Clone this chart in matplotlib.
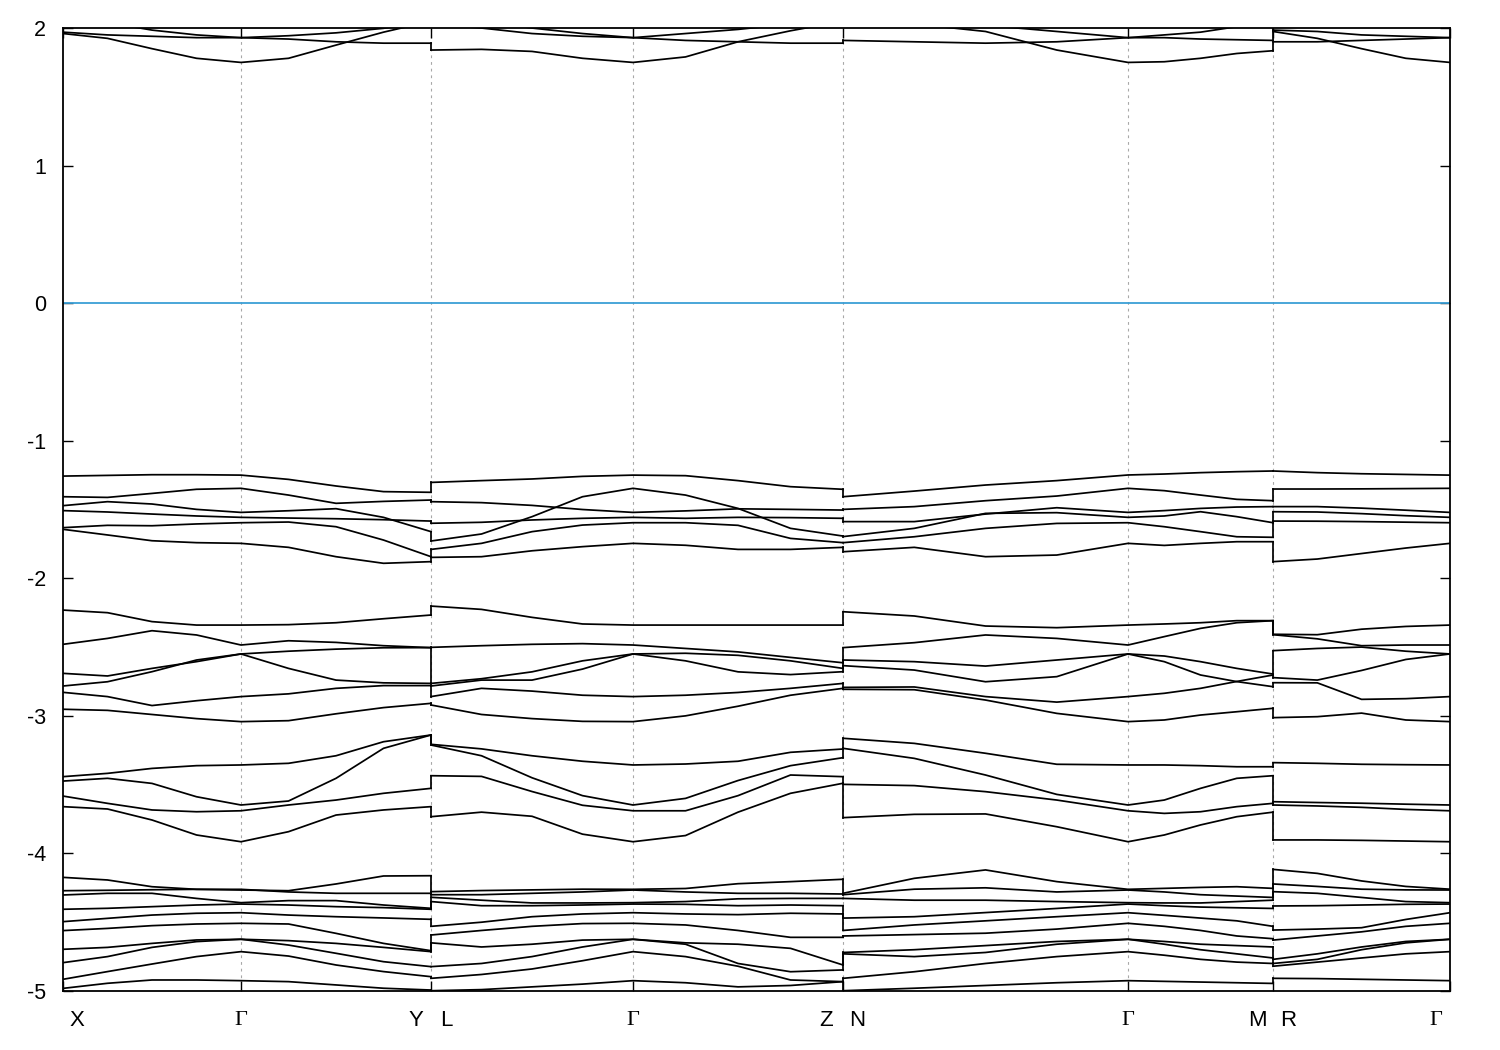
import numpy as np
import matplotlib
matplotlib.use('Agg')
import matplotlib.pyplot as plt

# high-symmetry points along the k-path (arbitrary path-length units)
kpts = [0.0, 0.178, 0.368, 0.570, 0.780, 1.065, 1.210, 1.387]

# band energies (eV) read at 5 k-points per segment
# path X-Γ-Y
path1 = [
    [1.96, 1.925, 1.85, 1.78, 1.75, 1.78, 1.876, 1.97, 2.05],
    [1.97, 1.95, 1.94, 1.93, 1.93, 1.92, 1.90, 1.89, 1.89],
    [2.1, 2.04, 1.985, 1.95, 1.93, 1.944, 1.965, 1.998, 2.05],
    [-1.257, -1.252, -1.247, -1.247, -1.25, -1.281, -1.329, -1.370, -1.375],
    [-1.407, -1.412, -1.383, -1.353, -1.346, -1.395, -1.455, -1.441, -1.431],
    [-1.472, -1.443, -1.46, -1.499, -1.521, -1.509, -1.494, -1.557, -1.661],
    [-1.508, -1.518, -1.533, -1.547, -1.557, -1.562, -1.567, -1.574, -1.584],
    [-1.632, -1.615, -1.618, -1.605, -1.596, -1.591, -1.625, -1.722, -1.843],
    [-1.644, -1.685, -1.727, -1.741, -1.746, -1.775, -1.843, -1.891, -1.879],
    [-2.231, -2.25, -2.315, -2.34, -2.34, -2.337, -2.323, -2.294, -2.267],
    [-2.480, -2.437, -2.381, -2.412, -2.485, -2.454, -2.466, -2.49, -2.504],
    [-2.691, -2.71, -2.655, -2.606, -2.55, -2.53, -2.515, -2.505, -2.504],
    [-2.783, -2.752, -2.679, -2.594, -2.55, -2.655, -2.74, -2.76, -2.764],
    [-2.829, -2.86, -2.925, -2.89, -2.86, -2.84, -2.80, -2.78, -2.78],
    [-2.952, -2.96, -2.99, -3.02, -3.042, -3.035, -2.985, -2.94, -2.909],
    [-3.442, -3.418, -3.382, -3.362, -3.357, -3.345, -3.29, -3.188, -3.139],
    [-3.474, -3.454, -3.491, -3.588, -3.648, -3.619, -3.454, -3.236, -3.139],
    [-3.583, -3.636, -3.684, -3.697, -3.69, -3.648, -3.612, -3.563, -3.527],
    [-3.66, -3.677, -3.757, -3.866, -3.915, -3.842, -3.721, -3.684, -3.66],
    [-4.174, -4.193, -4.242, -4.261, -4.266, -4.271, -4.222, -4.164, -4.162],
    [-4.271, -4.268, -4.264, -4.261, -4.261, -4.28, -4.29, -4.29, -4.29],
    [-4.302, -4.29, -4.29, -4.327, -4.358, -4.343, -4.343, -4.375, -4.399],
    [-4.406, -4.399, -4.387, -4.375, -4.368, -4.375, -4.387, -4.394, -4.406],
    [-4.496, -4.472, -4.448, -4.435, -4.431, -4.448, -4.46, -4.469, -4.479],
    [-4.561, -4.545, -4.525, -4.513, -4.508, -4.513, -4.581, -4.654, -4.707],
    [-4.697, -4.683, -4.654, -4.629, -4.624, -4.634, -4.654, -4.683, -4.714],
    [-4.794, -4.75, -4.683, -4.641, -4.624, -4.666, -4.726, -4.787, -4.823],
    [-4.915, -4.859, -4.804, -4.75, -4.714, -4.746, -4.811, -4.859, -4.896],
    [-4.981, -4.944, -4.92, -4.92, -4.925, -4.932, -4.956, -4.98, -4.993],
]

# path L-Γ-Z
path2 = [
    [1.84, 1.845, 1.83, 1.78, 1.75, 1.79, 1.90, 1.98, 2.05],
    [2.03, 2.0, 1.96, 1.94, 1.93, 1.91, 1.90, 1.89, 1.89],
    [2.1, 2.05, 2.0, 1.96, 1.93, 1.96, 1.99, 2.03, 2.08],
    [-1.303, -1.290, -1.278, -1.259, -1.25, -1.254, -1.29, -1.334, -1.353],
    [-1.729, -1.678, -1.552, -1.407, -1.346, -1.395, -1.492, -1.637, -1.693],
    [-1.443, -1.450, -1.47, -1.50, -1.521, -1.51, -1.495, -1.499, -1.504],
    [-1.600, -1.593, -1.576, -1.564, -1.557, -1.564, -1.557, -1.559, -1.564],
    [-1.79, -1.746, -1.661, -1.613, -1.596, -1.596, -1.615, -1.71, -1.741],
    [-1.848, -1.843, -1.80, -1.77, -1.746, -1.76, -1.79, -1.79, -1.775],
    [-2.202, -2.226, -2.284, -2.332, -2.34, -2.34, -2.34, -2.34, -2.34],
    [-2.502, -2.49, -2.48, -2.475, -2.485, -2.51, -2.535, -2.575, -2.614],
    [-2.764, -2.73, -2.68, -2.60, -2.55, -2.60, -2.68, -2.70, -2.679],
    [-2.783, -2.74, -2.74, -2.66, -2.55, -2.545, -2.56, -2.60, -2.655],
    [-2.86, -2.80, -2.82, -2.85, -2.86, -2.85, -2.83, -2.80, -2.764],
    [-2.921, -2.99, -3.02, -3.04, -3.042, -3.0, -2.93, -2.85, -2.80],
    [-3.207, -3.24, -3.29, -3.33, -3.357, -3.35, -3.33, -3.265, -3.241],
    [-3.212, -3.29, -3.45, -3.58, -3.648, -3.60, -3.47, -3.362, -3.304],
    [-3.435, -3.44, -3.55, -3.65, -3.69, -3.69, -3.58, -3.43, -3.442],
    [-3.733, -3.70, -3.73, -3.86, -3.915, -3.87, -3.70, -3.563, -3.49],
    [-4.278, -4.27, -4.265, -4.26, -4.261, -4.255, -4.22, -4.205, -4.188],
    [-4.30, -4.30, -4.29, -4.28, -4.266, -4.28, -4.29, -4.29, -4.295],
    [-4.319, -4.34, -4.36, -4.36, -4.358, -4.35, -4.33, -4.327, -4.327],
    [-4.35, -4.38, -4.38, -4.375, -4.368, -4.37, -4.38, -4.375, -4.38],
    [-4.53, -4.50, -4.46, -4.44, -4.431, -4.44, -4.445, -4.435, -4.44],
    [-4.593, -4.56, -4.53, -4.51, -4.508, -4.52, -4.56, -4.61, -4.61],
    [-4.65, -4.68, -4.66, -4.63, -4.624, -4.65, -4.66, -4.69, -4.811],
    [-4.823, -4.80, -4.75, -4.68, -4.624, -4.66, -4.80, -4.86, -4.847],
    [-4.908, -4.88, -4.84, -4.78, -4.714, -4.75, -4.82, -4.92, -4.932],
    [-4.998, -4.99, -4.97, -4.95, -4.925, -4.94, -4.97, -4.96, -4.932],
]

# path N-Γ-M
path3 = [
    [2.08, 2.03, 1.975, 1.84, 1.75, 1.755, 1.78, 1.815, 1.835],
    [1.91, 1.90, 1.89, 1.90, 1.93, 1.93, 1.92, 1.915, 1.91],
    [2.1, 2.06, 2.02, 1.975, 1.93, 1.95, 1.97, 2.01, 2.05],
    [-1.407, -1.366, -1.322, -1.290, -1.249, -1.242, -1.232, -1.225, -1.220],
    [-1.499, -1.479, -1.436, -1.402, -1.346, -1.363, -1.395, -1.426, -1.436],
    [-1.588, -1.588, -1.533, -1.487, -1.521, -1.508, -1.492, -1.482, -1.479],
    [-1.697, -1.637, -1.528, -1.523, -1.557, -1.547, -1.516, -1.552, -1.596],
    [-1.741, -1.698, -1.637, -1.601, -1.596, -1.625, -1.661, -1.698, -1.702],
    [-1.807, -1.775, -1.843, -1.831, -1.746, -1.761, -1.746, -1.734, -1.734],
    [-2.243, -2.274, -2.347, -2.359, -2.34, -2.332, -2.323, -2.308, -2.308],
    [-2.504, -2.468, -2.412, -2.437, -2.485, -2.424, -2.364, -2.323, -2.308],
    [-2.594, -2.606, -2.638, -2.594, -2.55, -2.565, -2.606, -2.655, -2.696],
    [-2.635, -2.667, -2.752, -2.715, -2.55, -2.606, -2.703, -2.751, -2.788],
    [-2.793, -2.79, -2.86, -2.90, -2.86, -2.836, -2.80, -2.75, -2.703],
    [-2.807, -2.81, -2.885, -2.982, -3.042, -3.03, -2.994, -2.97, -2.945],
    [-3.163, -3.20, -3.272, -3.352, -3.357, -3.357, -3.362, -3.37, -3.37],
    [-3.236, -3.309, -3.43, -3.571, -3.648, -3.612, -3.527, -3.454, -3.435],
    [-3.498, -3.507, -3.551, -3.612, -3.69, -3.709, -3.697, -3.66, -3.636],
    [-3.74, -3.716, -3.713, -3.806, -3.915, -3.866, -3.793, -3.733, -3.70],
    [-4.29, -4.181, -4.12, -4.205, -4.261, -4.254, -4.247, -4.242, -4.254],
    [-4.30, -4.26, -4.25, -4.28, -4.266, -4.28, -4.30, -4.31, -4.32],
    [-4.327, -4.34, -4.34, -4.35, -4.358, -4.36, -4.36, -4.35, -4.34],
    [-4.47, -4.46, -4.43, -4.40, -4.368, -4.38, -4.39, -4.395, -4.40],
    [-4.56, -4.52, -4.49, -4.46, -4.431, -4.45, -4.47, -4.49, -4.53],
    [-4.60, -4.59, -4.58, -4.55, -4.508, -4.53, -4.56, -4.60, -4.62],
    [-4.72, -4.70, -4.67, -4.64, -4.624, -4.64, -4.66, -4.67, -4.68],
    [-4.73, -4.75, -4.72, -4.66, -4.624, -4.66, -4.70, -4.73, -4.76],
    [-4.908, -4.86, -4.80, -4.75, -4.714, -4.74, -4.77, -4.79, -4.80],
    [-4.998, -4.98, -4.96, -4.94, -4.925, -4.93, -4.935, -4.94, -4.945],
]

# path R-Γ
path4 = [
    [1.975, 1.925, 1.85, 1.78, 1.75],
    [1.90, 1.90, 1.91, 1.92, 1.93],
    [1.985, 1.975, 1.95, 1.94, 1.93],
    [-1.220, -1.232, -1.240, -1.245, -1.25],
    [-1.351, -1.351, -1.350, -1.348, -1.346],
    [-1.479, -1.479, -1.49, -1.505, -1.521],
    [-1.516, -1.518, -1.53, -1.545, -1.557],
    [-1.584, -1.585, -1.588, -1.592, -1.596],
    [-1.879, -1.86, -1.82, -1.78, -1.746],
    [-2.407, -2.41, -2.37, -2.35, -2.34],
    [-2.41, -2.44, -2.49, -2.485, -2.485],
    [-2.526, -2.51, -2.50, -2.53, -2.55],
    [-2.722, -2.74, -2.67, -2.59, -2.55],
    [-2.759, -2.76, -2.88, -2.875, -2.86],
    [-3.013, -3.006, -2.98, -3.03, -3.042],
    [-3.34, -3.345, -3.352, -3.355, -3.357],
    [-3.624, -3.63, -3.635, -3.642, -3.648],
    [-3.648, -3.655, -3.665, -3.68, -3.69],
    [-3.902, -3.902, -3.905, -3.91, -3.915],
    [-4.116, -4.145, -4.20, -4.24, -4.26],
    [-4.222, -4.24, -4.26, -4.265, -4.266],
    [-4.278, -4.29, -4.32, -4.35, -4.358],
    [-4.382, -4.38, -4.375, -4.37, -4.368],
    [-4.557, -4.55, -4.54, -4.48, -4.431],
    [-4.63, -4.60, -4.57, -4.53, -4.508],
    [-4.77, -4.73, -4.68, -4.64, -4.624],
    [-4.80, -4.77, -4.70, -4.65, -4.624],
    [-4.82, -4.79, -4.76, -4.73, -4.714],
    [-4.908, -4.91, -4.915, -4.92, -4.925],
]

paths = [(path1, kpts[0:3]), (path2, kpts[2:5]), (path3, kpts[4:7]), (path4, kpts[6:8])]

plt.rcParams['font.family'] = ['Liberation Sans', 'DejaVu Sans']
fig = plt.figure(figsize=(15, 10.5), dpi=100)
ax = fig.add_axes([0.042, 0.0562, 0.9247, 0.9171])

# k grid of each path: 5 points per segment
kgrids = []
for bands, ends in paths:
    kk = [ends[0]]
    for a, b in zip(ends[:-1], ends[1:]):
        kk += list(np.linspace(a, b, 5)[1:])
    kgrids.append(np.array(kk))
    for band in bands:
        ax.plot(kk, band, color='black', lw=1.25, zorder=3)

# vertical jumps where one path ends and the next starts
for i in range(len(paths) - 1):
    kb = kgrids[i][-1]
    e_end = sorted(b[-1] for b in paths[i][0])
    e_start = sorted(b[0] for b in paths[i + 1][0])
    for y0, y1 in zip(e_end, e_start):
        ax.plot([kb, kb], [y0, y1], color='black', lw=1.25, zorder=3)

# Fermi level
ax.axhline(0, color='#3a9fd6', lw=1.3, zorder=2)

# grid lines at the high-symmetry points
for k in kpts[1:-1]:
    ax.axvline(k, color='#a8a8a8', lw=0.8, ls=(0, (2.5, 3.5)), zorder=1)

ax.set_xlim(kpts[0], kpts[-1])
ax.set_ylim(-5, 2)
ax.set_yticks(range(-5, 3))
ax.set_yticklabels([str(v) for v in range(-5, 3)])
ax.set_xticks(kpts)
ax.set_xticklabels([])
ax.tick_params(direction='in', length=7, width=1, top=True, right=True,
               labelsize=15.5, pad=12, color='black')
for s in ax.spines.values():
    s.set_linewidth(1.3)

# tick labels (split labels at path breaks)
label_pos = [(kpts[0], 'X', 10), (kpts[1], 'Γ', 0), (kpts[2], 'Y', -11), (kpts[2], 'L', 11),
             (kpts[3], 'Γ', 0), (kpts[4], 'Z', -12), (kpts[4], 'N', 10), (kpts[5], 'Γ', 0),
             (kpts[6], 'M', -11), (kpts[6], 'R', 11), (kpts[7], 'Γ', -10)]
for k, txt, dx in label_pos:
    fam = ['Liberation Serif', 'DejaVu Serif'] if txt == 'Γ' else ['Liberation Sans', 'DejaVu Sans']
    ax.annotate(txt, xy=(k, 0), xycoords=('data', 'axes fraction'),
                xytext=(dx, -21), textcoords='offset points',
                ha='center', va='center', fontsize=16, family=fam)

fig.savefig('out.png', dpi=100)
